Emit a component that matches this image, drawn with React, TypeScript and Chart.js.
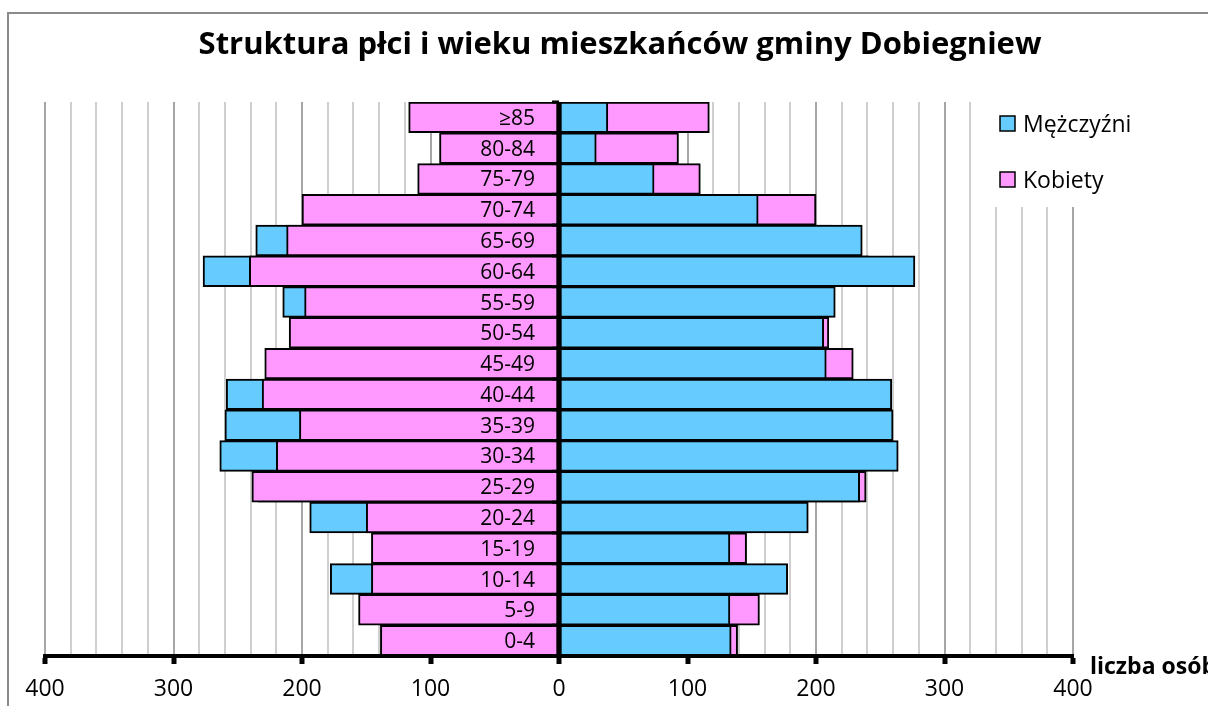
import React, { useEffect, useRef } from "react";
import { Chart, registerables } from "chart.js";

Chart.register(...registerables);

const TITLE = "Struktura płci i wieku mieszkańców gminy Dobiegniew";
const AXIS_TITLE = "liczba osób";
const categories = ["0-4", "5-9", "10-14", "15-19", "20-24", "25-29", "30-34", "35-39", "40-44", "45-49", "50-54", "55-59", "60-64", "65-69", "70-74", "75-79", "80-84", "≥85"];
const men = [134, 133, 178, 133, 194, 234, 264, 260, 259, 208, 206, 215, 277, 236, 155, 74, 29, 38];
const women = [139, 156, 146, 146, 150, 239, 220, 202, 231, 229, 210, 198, 241, 212, 200, 110, 93, 117];
const seriesNames = ["Mężczyźni", "Kobiety"];
const seriesColors = ["#66CCFF", "#FF99FF"];
const xMin = -400;
const xMax = 400;
const xStep = 20;
const xLabelStep = 100;

const FONT = "'Open Sans', sans-serif";

const decorPlugin = {
  id: "decor",
  beforeDraw(chart: any) {
    const ctx = chart.ctx;
    ctx.save();
    ctx.fillStyle = "#ffffff";
    ctx.fillRect(0, 0, chart.width, chart.height);
    ctx.strokeStyle = "#8a8a8a";
    ctx.lineWidth = 2;
    ctx.beginPath();
    ctx.moveTo(8, chart.height + 10);
    ctx.lineTo(8, 13);
    ctx.lineTo(chart.width + 10, 13);
    ctx.stroke();
    ctx.fillStyle = "#000";
    ctx.font = `bold 31px ${FONT}`;
    ctx.textAlign = "center";
    ctx.textBaseline = "alphabetic";
    ctx.fillText(TITLE, 620, 54);
    ctx.restore();
  },
  afterDatasetsDraw(chart: any) {
    const ctx = chart.ctx;
    const xs = chart.scales.x;
    const ys = chart.scales.y;
    const x0 = xs.getPixelForValue(0);
    const area = chart.chartArea;
    ctx.save();
    ctx.strokeStyle = "#000";
    ctx.lineWidth = 3;
    const n = categories.length;
    const half = Math.abs(ys.getPixelForValue(1) - ys.getPixelForValue(0)) / 2;
    for (let i = 0; i < n; i++) {
      const yb = ys.getPixelForValue(i) - half;
      ctx.beginPath();
      ctx.moveTo(x0 - 7, yb);
      ctx.lineTo(x0, yb);
      ctx.stroke();
    }
    ctx.lineWidth = 4;
    ctx.beginPath();
    ctx.moveTo(x0, area.top);
    ctx.lineTo(x0, area.bottom);
    ctx.stroke();
    ctx.fillStyle = "#000";
    ctx.font = `21px ${FONT}`;
    ctx.textAlign = "right";
    ctx.textBaseline = "alphabetic";
    categories.forEach((c, i) => {
      const yc = ys.getPixelForValue(i);
      ctx.fillText(c, x0 - 24, yc + 7.5);
    });
    ctx.restore();
  },
  afterDraw(chart: any) {
    const ctx = chart.ctx;
    ctx.save();
    ctx.fillStyle = "#ffffff";
    ctx.fillRect(982, 96, 226, 111);
    const ys = [123.5, 179.5];
    seriesNames.forEach((name, i) => {
      ctx.fillStyle = seriesColors[i];
      ctx.fillRect(1000, ys[i] - 7.5, 15, 15);
      ctx.strokeStyle = "#000";
      ctx.lineWidth = 1.5;
      ctx.strokeRect(1000, ys[i] - 7.5, 15, 15);
      ctx.fillStyle = "#000";
      ctx.font = `23px ${FONT}`;
      ctx.textAlign = "left";
      ctx.textBaseline = "alphabetic";
      ctx.fillText(name, 1023, ys[i] + 8);
    });
    ctx.font = `bold 23px ${FONT}`;
    ctx.fillText(AXIS_TITLE, 1090, 674);
    ctx.restore();
  },
};

export default function App() {
  const ref = useRef<HTMLCanvasElement | null>(null);
  useEffect(() => {
    document.body.style.margin = "0";
    const canvas = ref.current!;
    const chart = new Chart(canvas, {
      type: "bar",
      data: {
        labels: categories,
        datasets: [
          { label: seriesNames[1], data: women.map((v) => -v), backgroundColor: seriesColors[1] },
          { label: seriesNames[0], data: men.map((v) => -v), backgroundColor: seriesColors[0] },
          { label: seriesNames[0], data: men, backgroundColor: seriesColors[0] },
          { label: seriesNames[1], data: women, backgroundColor: seriesColors[1] },
        ].map((d) => ({
          ...d,
          borderColor: "#000",
          borderWidth: 2,
          borderSkipped: false,
          grouped: false,
          barPercentage: 1,
          categoryPercentage: 1,
        })) as any,
      },
      options: {
        indexAxis: "y",
        responsive: false,
        animation: false,
        layout: { padding: { left: 45, right: 135, top: 102, bottom: 0 } },
        plugins: { legend: { display: false }, tooltip: { enabled: false }, title: { display: false } },
        scales: {
          x: {
            type: "linear",
            min: xMin,
            max: xMax,
            afterFit: (s: any) => {
              s.height = 50;
            },
            ticks: {
              stepSize: xStep,
              autoSkip: false,
              maxRotation: 0,
              padding: 12,
              color: "#000",
              font: { family: FONT, size: 23 },
              callback: (v: any) => (Number(v) % xLabelStep === 0 ? String(Math.abs(Number(v))) : ""),
            },
            grid: {
              color: (c: any) => (c.tick && c.tick.value % xLabelStep === 0 ? "#a6a6a6" : "#cfcfcf"),
              lineWidth: 2,
              tickLength: 8,
              tickWidth: 5,
              tickColor: (c: any) => (c.tick && c.tick.value % xLabelStep === 0 ? "#000" : "rgba(0,0,0,0)"),
            },
            border: { display: true, color: "#000", width: 4, z: 1 },
          },
          y: {
            type: "category",
            reverse: true,
            display: false,
            offset: true,
            grid: { display: false },
          },
        },
      },
      plugins: [decorPlugin],
    });
    return () => chart.destroy();
  }, []);
  return (
    <div style={{ position: "absolute", left: 0, top: 0, width: 1208, height: 706 }}>
      <canvas ref={ref} width={1208} height={706} style={{ display: "block" }} />
    </div>
  );
}
